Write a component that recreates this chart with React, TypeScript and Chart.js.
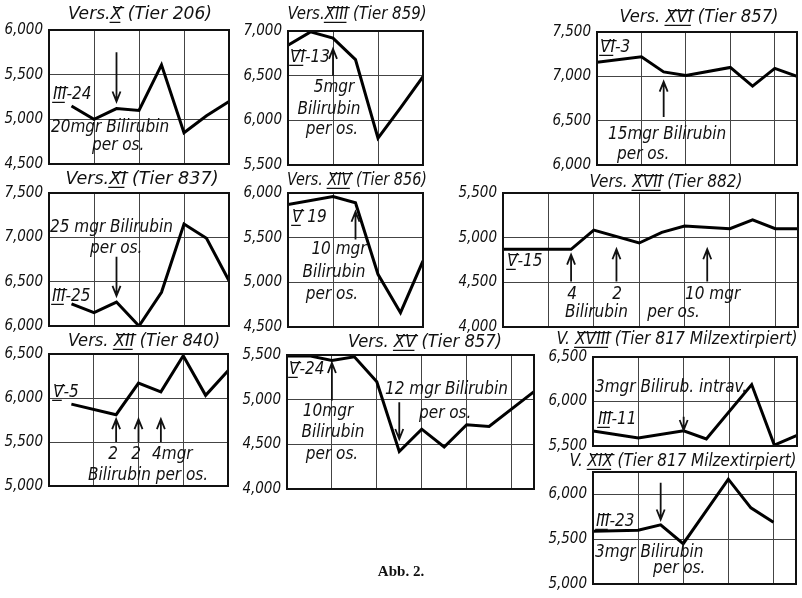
import React, { useEffect, useRef } from 'react';
import { Chart, registerables } from 'chart.js';
Chart.register(...registerables);

const FONT = "'DejaVu Sans Condensed', 'DejaVu Sans', sans-serif";
const PL = 52, PT = 32, PR = 10, PB = 14;

// ---- data (x = half-day steps, y = leukocyte counts) ----
const xX = [1, 2, 3, 4, 5, 6, 7, 8];
const yX = [5150, 5000, 5120, 5100, 5610, 4850, 5040, 5200];
const xXIII = [0, 1, 2, 3, 4, 5, 6];
const yXIII = [6840, 6990, 6920, 6680, 5800, 6140, 6490];
const xXVI = [0, 2, 3, 4, 6, 7, 8, 9];
const yXVI = [7160, 7220, 7050, 7010, 7100, 6890, 7090, 7000];
const xXI = [1, 2, 3, 4, 5, 6, 7, 8];
const yXI = [6250, 6150, 6270, 6000, 6380, 7150, 6990, 6510];
const xXIV = [0, 2, 3, 4, 5, 6];
const yXIV = [5870, 5960, 5890, 5090, 4660, 5240];
const xXVII = [0, 3, 4, 6, 7, 8, 10, 11, 12, 13];
const yXVII = [4870, 4870, 5085, 4940, 5060, 5130, 5100, 5200, 5100, 5100];
const xXII = [1, 3, 4, 5, 6, 7, 8];
const yXII = [5930, 5810, 6170, 6070, 6480, 6030, 6310];
const xXV = [0, 1, 2, 3, 4, 5, 6, 7, 8, 9, 11];
const yXV = [5490, 5490, 5440, 5480, 5200, 4420, 4670, 4470, 4720, 4700, 5090];
const xXVIII = [0, 2, 4, 5, 7, 8, 9];
const yXVIII = [5670, 5590, 5670, 5580, 6190, 5510, 5620];
const xXIX = [0, 2, 3, 4, 6, 7, 8];
const yXIX = [5590, 5600, 5660, 5450, 6170, 5850, 5690];

type Arrow = { x: number; from: number; to: number };
type Label = { t: string; x: number; y: number; c?: boolean; w?: number };
type Panel = {
  title: string; tx: number; ty: number; tw: number;
  box: [number, number, number, number];
  yMin: number; yMax: number; xMax: number;
  xs: number[]; ys: number[];
  arrows: Arrow[]; labels: Label[];
};

const panels: Panel[] = [
  {
    title: 'Vers.|X| (Tier 206)', tx: 140, ty: 15, tw: 144,
    box: [49, 30, 229, 165], yMin: 4500, yMax: 6000, xMax: 8, xs: xX, ys: yX,
    arrows: [{ x: 3, from: 5750, to: 5200 }],
    labels: [
      { t: '|III|-24', x: 53, y: 95 },
      { t: '20mgr Bilirubin', x: 51, y: 128 },
      { t: 'per os.', x: 92, y: 146 },
    ],
  },
  {
    title: 'Vers.|XIII| (Tier 859)', tx: 357, ty: 15, tw: 139,
    box: [288, 31, 423, 166], yMin: 5500, yMax: 7000, xMax: 6, xs: xXIII, ys: yXIII,
    arrows: [{ x: 2, from: 6500, to: 6800 }],
    labels: [
      { t: '|VI|-13', x: 290, y: 58 },
      { t: '5mgr', x: 334, y: 88, c: true },
      { t: 'Bilirubin', x: 329, y: 110, c: true },
      { t: 'per os.', x: 332, y: 130, c: true },
    ],
  },
  {
    title: 'Vers. |XVI| (Tier 857)', tx: 699, ty: 18, tw: 159,
    box: [597, 32, 797, 166], yMin: 6000, yMax: 7500, xMax: 9, xs: xXVI, ys: yXVI,
    arrows: [{ x: 3, from: 6540, to: 6940 }],
    labels: [
      { t: '|VI|-3', x: 600, y: 48 },
      { t: '15mgr Bilirubin', x: 608, y: 135 },
      { t: 'per os.', x: 617, y: 155 },
    ],
  },
  {
    title: 'Vers.|XI| (Tier 837)', tx: 142, ty: 180, tw: 153,
    box: [49, 193, 229, 327], yMin: 6000, yMax: 7500, xMax: 8, xs: xXI, ys: yXI,
    arrows: [{ x: 3, from: 6780, to: 6340 }],
    labels: [
      { t: '25 mgr Bilirubin', x: 50, y: 228 },
      { t: 'per os.', x: 90, y: 249 },
      { t: '|III|-25', x: 52, y: 297 },
    ],
  },
  {
    title: 'Vers. |XIV| (Tier 856)', tx: 357, ty: 181, tw: 140,
    box: [288, 193, 423, 328], yMin: 4500, yMax: 6000, xMax: 6, xs: xXIV, ys: yXIV,
    arrows: [{ x: 3, from: 5480, to: 5790 }],
    labels: [
      { t: '|V| 19', x: 292, y: 218 },
      { t: '10 mgr', x: 339, y: 250, c: true },
      { t: 'Bilirubin', x: 334, y: 273, c: true },
      { t: 'per os.', x: 332, y: 295, c: true },
    ],
  },
  {
    title: 'Vers. |XVII| (Tier 882)', tx: 666, ty: 183, tw: 153,
    box: [503, 193, 798, 328], yMin: 4000, yMax: 5500, xMax: 13, xs: xXVII, ys: yXVII,
    arrows: [
      { x: 3, from: 4510, to: 4810 },
      { x: 5, from: 4510, to: 4870 },
      { x: 9, from: 4510, to: 4870 },
    ],
    labels: [
      { t: '|V|-15', x: 507, y: 262 },
      { t: '4', x: 572, y: 295, c: true },
      { t: '2', x: 617, y: 295, c: true },
      { t: '10 mgr', x: 685, y: 295 },
      { t: 'Bilirubin    per os.', x: 565, y: 313 },
    ],
  },
  {
    title: 'Vers. |XII| (Tier 840)', tx: 144, ty: 342, tw: 152,
    box: [49, 354, 228, 487], yMin: 5000, yMax: 6500, xMax: 8, xs: xXII, ys: yXII,
    arrows: [
      { x: 3, from: 5500, to: 5760 },
      { x: 4, from: 5500, to: 5760 },
      { x: 5, from: 5500, to: 5760 },
    ],
    labels: [
      { t: '|V|-5', x: 53, y: 393 },
      { t: '2', x: 113, y: 455, c: true },
      { t: '2', x: 136, y: 455, c: true },
      { t: '4mgr', x: 152, y: 455 },
      { t: 'Bilirubin per os.', x: 88, y: 476 },
    ],
  },
  {
    title: 'Vers. |XV| (Tier 857)', tx: 425, ty: 343, tw: 154,
    box: [287, 355, 534, 490], yMin: 4000, yMax: 5500, xMax: 11, xs: xXV, ys: yXV,
    arrows: [
      { x: 2, from: 4990, to: 5410 },
      { x: 5, from: 4970, to: 4560 },
    ],
    labels: [
      { t: '|V|-24', x: 289, y: 370 },
      { t: '10mgr', x: 328, y: 412, c: true },
      { t: 'Bilirubin', x: 333, y: 433, c: true },
      { t: 'per os.', x: 332, y: 455, c: true },
      { t: '12 mgr Bilirubin', x: 385, y: 390 },
      { t: 'per os.', x: 419, y: 414 },
    ],
  },
  {
    title: 'V. |XVIII| (Tier 817 Milzextirpiert)', tx: 677, ty: 340, tw: 241,
    box: [593, 357, 797, 447], yMin: 5500, yMax: 6500, xMax: 9, xs: xXVIII, ys: yXVIII,
    arrows: [{ x: 4, from: 5830, to: 5680 }],
    labels: [
      { t: '3mgr Bilirub. intrav.', x: 595, y: 388, w: 152 },
      { t: '|III|-11', x: 598, y: 420 },
    ],
  },
  {
    title: 'V. |XIX| (Tier 817 Milzextirpiert)', tx: 683, ty: 462, tw: 227,
    box: [593, 472, 796, 585], yMin: 5000, yMax: 6250, xMax: 9, xs: xXIX, ys: yXIX,
    arrows: [{ x: 3, from: 6130, to: 5720 }],
    labels: [
      { t: '|III|-23', x: 596, y: 522 },
      { t: '3mgr Bilirubin', x: 595, y: 553 },
      { t: 'per os.', x: 653, y: 569 },
    ],
  },
];

function drawRich(ctx: CanvasRenderingContext2D, text: string, x: number, y: number,
  size: number, align: 'left' | 'center', targetW?: number) {
  ctx.save();
  ctx.font = `italic ${size}px ${FONT}`;
  ctx.textBaseline = 'middle';
  ctx.textAlign = 'left';
  ctx.fillStyle = '#111';
  ctx.strokeStyle = '#111';
  const parts = text.split('|');
  const widths = parts.map((s) => ctx.measureText(s).width);
  const natural = widths.reduce((a, b) => a + b, 0);
  const k = targetW ? targetW / natural : 1;
  const total = natural * k;
  const start = align === 'center' ? x - total / 2 : x;
  ctx.translate(start, y);
  ctx.scale(k, 1);
  let cx = 0;
  parts.forEach((s, i) => {
    ctx.fillText(s, cx, 0);
    if (i % 2 === 1 && s.length) {
      const h = size * 0.37;
      ctx.lineWidth = 1.2;
      ctx.beginPath();
      ctx.moveTo(cx + size * 0.15, -h - 1);
      ctx.lineTo(cx + widths[i] + size * 0.1, -h - 1);
      ctx.moveTo(cx - size * 0.05, h + 1);
      ctx.lineTo(cx + widths[i] - size * 0.1, h + 1);
      ctx.stroke();
    }
    cx += widths[i];
  });
  ctx.restore();
}

function makeDecor(p: Panel) {
  const ox = p.box[0] - PL;
  const oy = p.box[1] - PT;
  return {
    id: 'decor',
    afterDraw(chart: any) {
      const ctx: CanvasRenderingContext2D = chart.ctx;
      const ca = chart.chartArea;
      const xs = chart.scales.x;
      const ys = chart.scales.y;
      ctx.save();
      ctx.strokeStyle = '#111';
      ctx.lineWidth = 2;
      ctx.strokeRect(ca.left, ca.top, ca.right - ca.left, ca.bottom - ca.top);
      p.arrows.forEach((a) => {
        const px = xs.getPixelForValue(a.x);
        const y1 = ys.getPixelForValue(a.from);
        const y2 = ys.getPixelForValue(a.to);
        const dir = y2 < y1 ? -1 : 1;
        ctx.lineWidth = 1.8;
        ctx.beginPath();
        ctx.moveTo(px, y1);
        ctx.lineTo(px, y2);
        ctx.moveTo(px - 4, y2 - dir * 10);
        ctx.lineTo(px, y2);
        ctx.lineTo(px + 4, y2 - dir * 10);
        ctx.stroke();
      });
      ctx.restore();
      drawRich(ctx, p.title, p.tx - ox, p.ty - oy, 17, 'center', p.tw);
      p.labels.forEach((l) => {
        drawRich(ctx, l.t, l.x - ox, l.y - oy, 17, l.c ? 'center' : 'left', l.w);
      });
    },
  };
}

function range(a: number, b: number, step: number) {
  const out: number[] = [];
  for (let v = a; v <= b + 1e-9; v += step) out.push(v);
  return out;
}

function PanelChart({ p }: { p: Panel }) {
  const ref = useRef<HTMLCanvasElement | null>(null);
  const [L, T, R, B] = p.box;
  const w = R - L + PL + PR;
  const h = B - T + PT + PB;
  useEffect(() => {
    if (!ref.current) return;
    const yTicks = range(p.yMin, p.yMax, 500);
    const xTicks = range(0, p.xMax, 2);
    const chart = new Chart(ref.current, {
      type: 'line',
      data: {
        datasets: [{
          data: p.xs.map((x, i) => ({ x, y: p.ys[i] })),
          borderColor: '#000',
          borderWidth: 3,
          pointRadius: 0,
          fill: false,
          tension: 0,
          borderJoinStyle: 'miter',
        }],
      },
      options: {
        animation: false,
        responsive: false,
        devicePixelRatio: 1,
        layout: { padding: { top: PT, right: PR, bottom: PB, left: 0 } },
        plugins: { legend: { display: false }, tooltip: { enabled: false }, title: { display: false } },
        scales: {
          x: {
            type: 'linear', min: 0, max: p.xMax,
            afterFit: (s: any) => { s.height = 0; },
            afterBuildTicks: (s: any) => { s.ticks = xTicks.map((v) => ({ value: v })); },
            ticks: { display: false, autoSkip: false },
            grid: { color: '#444', lineWidth: 1, drawTicks: false },
            border: { display: false },
          },
          y: {
            type: 'linear', min: p.yMin, max: p.yMax,
            afterFit: (s: any) => { s.width = PL; },
            afterBuildTicks: (s: any) => { s.ticks = yTicks.map((v) => ({ value: v })); },
            ticks: {
              autoSkip: false, padding: 6, color: '#111',
              font: { family: FONT, size: 15, style: 'italic' },
              callback: (v: any) => Number(v).toLocaleString('en-US'),
            },
            grid: { color: '#444', lineWidth: 1, drawTicks: false },
            border: { display: false },
          },
        },
      },
      plugins: [makeDecor(p)],
    } as any);
    return () => chart.destroy();
  }, [p]);
  return (
    <canvas
      ref={ref}
      width={w}
      height={h}
      style={{ position: 'absolute', left: L - PL, top: T - PT, width: w, height: h }}
    />
  );
}

export default function App() {
  return (
    <div style={{ position: 'fixed', left: 0, top: 0, width: 802, height: 598, background: '#fff', overflow: 'hidden' }}>
      {panels.map((p, i) => <PanelChart key={i} p={p} />)}
      <div style={{
        position: 'absolute', left: 0, width: 802, top: 563, textAlign: 'center',
        fontFamily: "'Liberation Serif', serif", fontWeight: 'bold', fontSize: 15, color: '#111',
      }}>Abb. 2.</div>
    </div>
  );
}
